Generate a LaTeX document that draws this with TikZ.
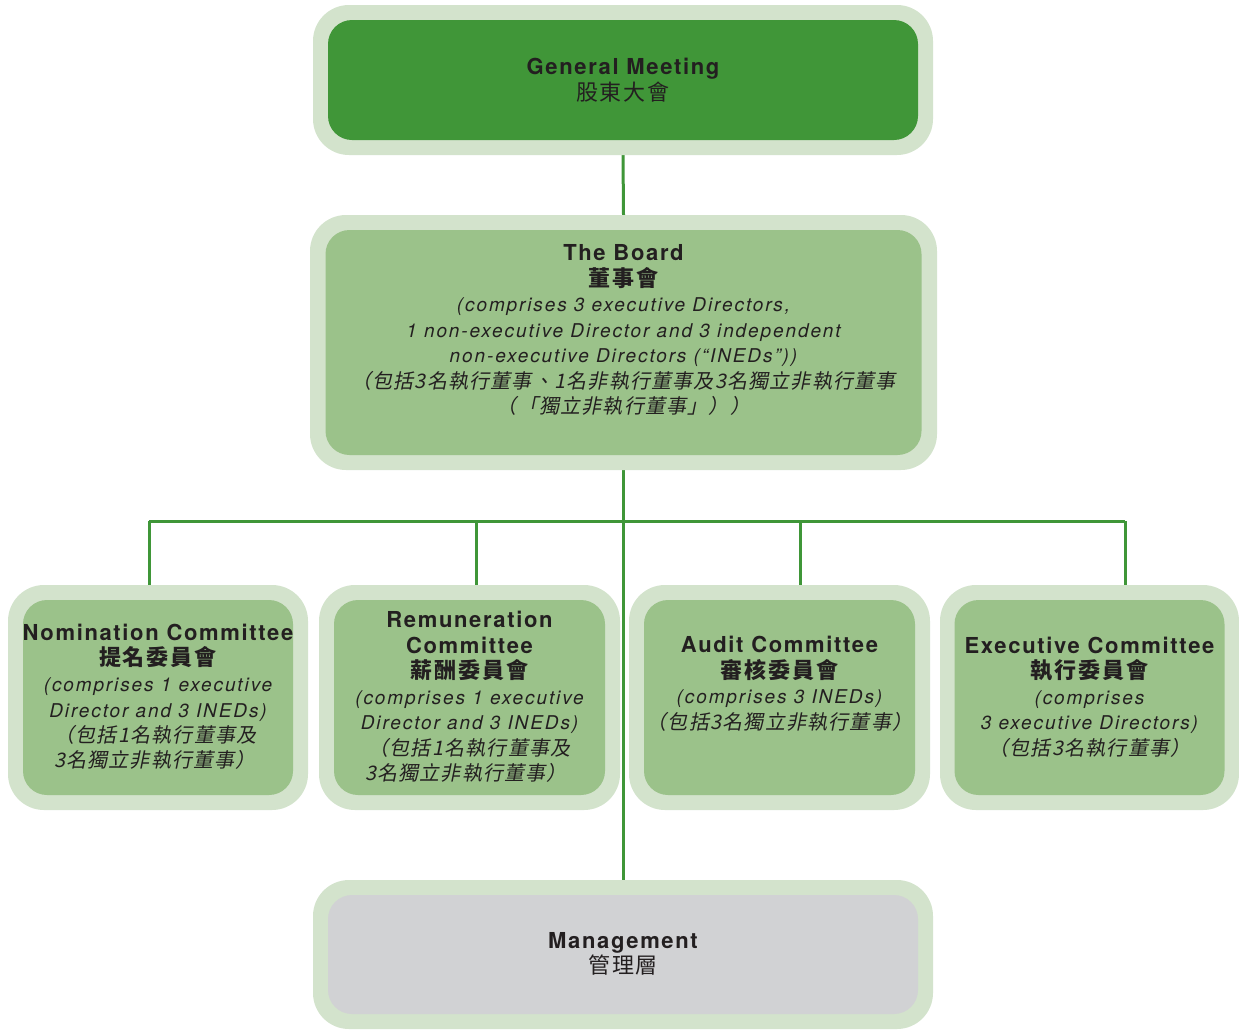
\documentclass[tikz,border=0pt]{standalone}
\usepackage{fontspec}
\usetikzlibrary{backgrounds}
\setmainfont{TeX Gyre Heros}
\newfontfamily\ttlfont{TeX Gyre Heros}[LetterSpace=7.5]
\newfontfamily\itfont{TeX Gyre Heros}[LetterSpace=10]
\newfontfamily\cjkb{Noto Sans CJK TC}[LetterSpace=9]
\newfontfamily\cjki{Noto Sans CJK TC}[FakeSlant=0.2,LetterSpace=6]
\definecolor{lightg}{HTML}{D3E3CC}
\definecolor{gmgreen}{HTML}{409638}
\definecolor{boardg}{HTML}{9BC28A}
\definecolor{mgrey}{HTML}{D1D2D4}
\definecolor{ink}{HTML}{231F20}
\definecolor{lineg}{HTML}{3F9638}
\newcommand\Ttl[1]{{\fontsize{22}{25.5}\selectfont\ttlfont\bfseries #1}}
\newcommand\Ctl[1]{{\fontsize{22}{25.5}\selectfont\cjkb\bfseries #1}}
\newcommand\Creg[1]{{\fontsize{22}{25.5}\selectfont\cjkb #1}}
\newcommand\Itl[1]{{\fontsize{19}{25.5}\selectfont\itfont\itshape #1}}
\newcommand\Cit[1]{{\fontsize{20}{25.5}\selectfont\cjki #1}}
\begin{document}
\begin{tikzpicture}[x=1pt,y=-1pt,
  outerbox/.style={rectangle, rounded corners=36pt, fill=lightg, draw=none, inner sep=0pt},
  innerbox/.style={rectangle, rounded corners=24pt, fill=boardg, draw=none, inner sep=0pt},
  txt/.style={align=center, inner sep=0pt, text=ink, font=\fontsize{18}{25.5}\selectfont},
  conn/.style={draw=lineg, line width=3pt}]
\useasboundingbox (0,0) rectangle (1239,1029);
% General Meeting
\node[outerbox, minimum width=620pt, minimum height=150pt] (gmO) at (623,80) {};
\node[innerbox, fill=gmgreen, minimum width=590pt, minimum height=120pt] (gm) at (623,80) {};
\node[txt] (gmT) at (623,80) {\Ttl{General Meeting}\\\Creg{股東大會}};
% Board
\node[outerbox, minimum width=627pt, minimum height=255pt] (bdO) at (623.5,342.5) {};
\node[innerbox, minimum width=596pt, minimum height=225pt] (bd) at (623.5,342.5) {};
\node[txt] (bdT) at (623.5,330) {\Ttl{The Board}\\\Ctl{董事會}\\
  \Itl{(comprises 3 executive Directors,}\\
  \Itl{1 non-executive Director and 3 independent}\\
  \Itl{non-executive Directors (“INEDs”))}\\
  \Cit{（包括3名執行董事、1名非執行董事及3名獨立非執行董事}\\
  \Cit{（「獨立非執行董事」））}};
% Committees
\node[outerbox, minimum width=300pt, minimum height=225pt] (nomO) at (158,697.5) {};
\node[innerbox, minimum width=270pt, minimum height=195pt] (nom) at (158,697.5) {};
\node[txt] (nomT) at (158,697) {\Ttl{Nomination Committee}\\\Ctl{提名委員會}\\
  \Itl{(comprises 1 executive}\\\Itl{Director and 3 INEDs)}\\
  \hspace*{-5pt}\Cit{（包括1名執行董事及}\\\Cit{3名獨立非執行董事）}\hspace*{6pt}};
\node[outerbox, minimum width=301pt, minimum height=225pt] (remO) at (469.5,697.5) {};
\node[innerbox, minimum width=271pt, minimum height=195pt] (rem) at (469.5,697.5) {};
\node[txt] (remT) at (469.5,697) {\Ttl{Remuneration}\\\Ttl{Committee}\\\Ctl{薪酬委員會}\\
  \Itl{(comprises 1 executive}\\\Itl{Director and 3 INEDs)}\\
  \Cit{（包括1名執行董事及}\\\Cit{3名獨立非執行董事）}\hspace*{7pt}};
\node[outerbox, minimum width=301pt, minimum height=225pt] (audO) at (779.5,697.5) {};
\node[innerbox, minimum width=271pt, minimum height=195pt] (aud) at (779.5,697.5) {};
\node[txt] (audT) at (779.5,684) {\Ttl{Audit Committee}\\\Ctl{審核委員會}\\
  \Itl{(comprises 3 INEDs)}\\\Cit{（包括3名獨立非執行董事）}};
\node[outerbox, minimum width=299pt, minimum height=225pt] (exeO) at (1089.5,697.5) {};
\node[innerbox, minimum width=270pt, minimum height=195pt] (exe) at (1089.5,697.5) {};
\node[txt] (exeT) at (1089.5,697) {\Ttl{Executive Committee}\\\Ctl{執行委員會}\\
  \Itl{(comprises}\\\Itl{3 executive Directors)}\\\Cit{（包括3名執行董事）}};
% Management
\node[outerbox, minimum width=620pt, minimum height=149pt] (mgO) at (623,954.5) {};
\node[innerbox, fill=mgrey, minimum width=590pt, minimum height=119pt] (mg) at (623,954.5) {};
\node[txt] (mgT) at (623,954) {\Ttl{Management}\\\Creg{管理層}};
% Connectors
\coordinate (busL) at (149,521);
\coordinate (busB) at (476,521);
\coordinate (busC) at (800,521);
\coordinate (busR) at (1125,521);
\begin{scope}[on background layer]
\draw[conn] (gmO.south) -- (bdO.north);
\draw[conn] (bdO.south) -- (bdO.south |- mgO.north);
\draw[conn] (busL) -- (busR);
\draw[conn] (busL) -- (busL |- nomO.north);
\draw[conn] (busB) -- (busB |- remO.north);
\draw[conn] (busC) -- (busC |- audO.north);
\draw[conn] (busR) -- (busR |- exeO.north);
\end{scope}
\end{tikzpicture}
\end{document}
